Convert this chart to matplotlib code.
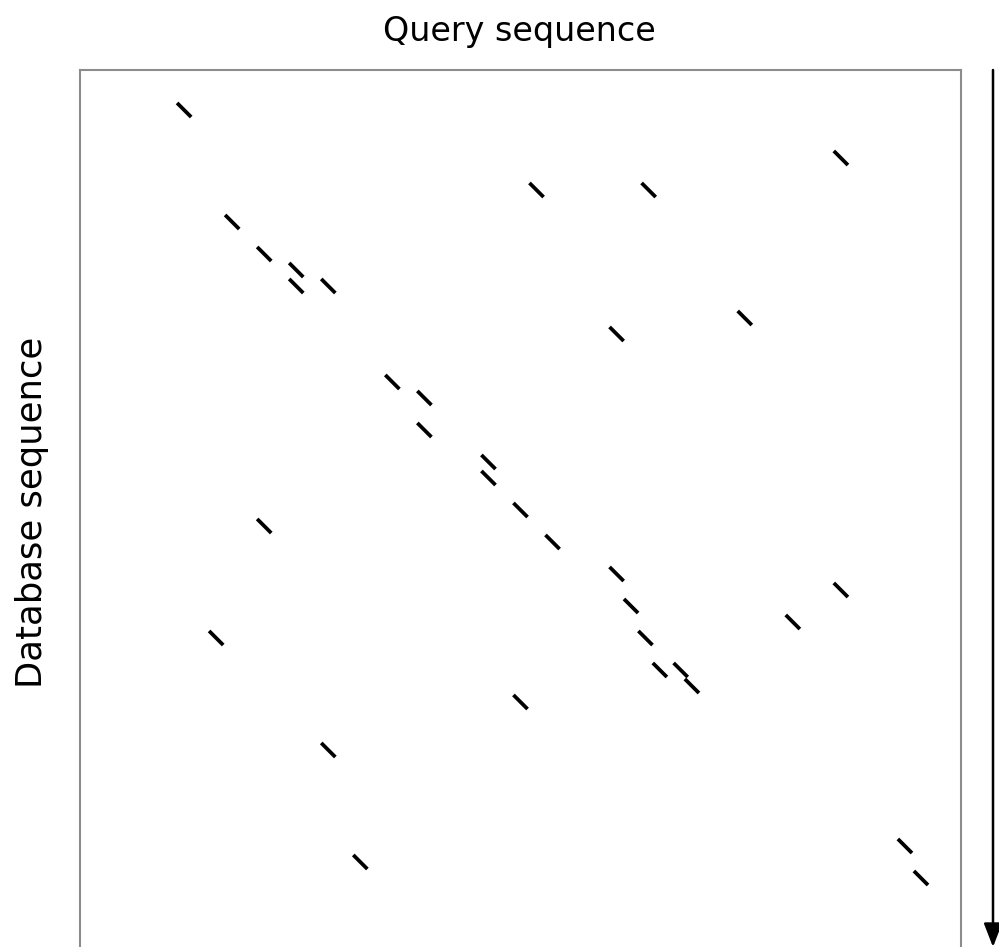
import matplotlib
matplotlib.use("Agg")
import matplotlib.pyplot as plt
from matplotlib.collections import LineCollection

# Word hits: start position along query (x) and database (y), in residues
hit_query = [6, 9, 11, 13, 13, 15, 28, 35, 47, 33, 41, 19, 21, 21, 25, 25, 27, 29,
             33, 33.9, 34.8, 35.7, 37, 37.7, 27, 11, 8, 15, 17, 47, 44, 51, 52]
hit_db = [2, 9, 11, 12, 13, 13, 7, 7, 5, 16, 15, 19, 20, 22, 24, 25, 27, 29,
          31, 33, 35, 37, 37, 38, 39, 28, 35, 42, 49, 32, 34, 48, 50]
query_length = 55
db_length = 55
word_len = 1.0

W, H = 999, 947
fig = plt.figure(figsize=(W / 100, H / 100), dpi=100)
ax = fig.add_axes([80 / W, (H - 950) / H, 881 / W, 880 / H])
ax.set_xlim(0, query_length)
ax.set_ylim(db_length, 0)
ax.set_xticks([])
ax.set_yticks([])
for sp in ax.spines.values():
    sp.set_color("#8c8c8c")
    sp.set_linewidth(1.5)

pad = 0.06
segs = [[(q + pad, d + pad), (q + word_len - pad, d + word_len - pad)]
        for q, d in zip(hit_query, hit_db)]
lc = LineCollection(segs, colors="black", linewidths=2.7, capstyle="butt")
ax.add_collection(lc)

fig.text(519.5 / W, 1 - 31 / H, "Query sequence", ha="center", va="center",
         fontsize=24, family="DejaVu Sans")
fig.text(32 / W, 1 - 512 / H, "Database sequence", ha="center", va="center",
         rotation=90, fontsize=25.5, family="DejaVu Sans")

fig.patches.append(matplotlib.patches.FancyArrowPatch(
    (993 / W, 1 - 70 / H), (993 / W, 0.0), transform=fig.transFigure,
    arrowstyle="-|>,head_length=0.9,head_width=0.35", mutation_scale=16,
    color="black", linewidth=1.8, shrinkA=0, shrinkB=0))

fig.savefig("out.png", dpi=100)
